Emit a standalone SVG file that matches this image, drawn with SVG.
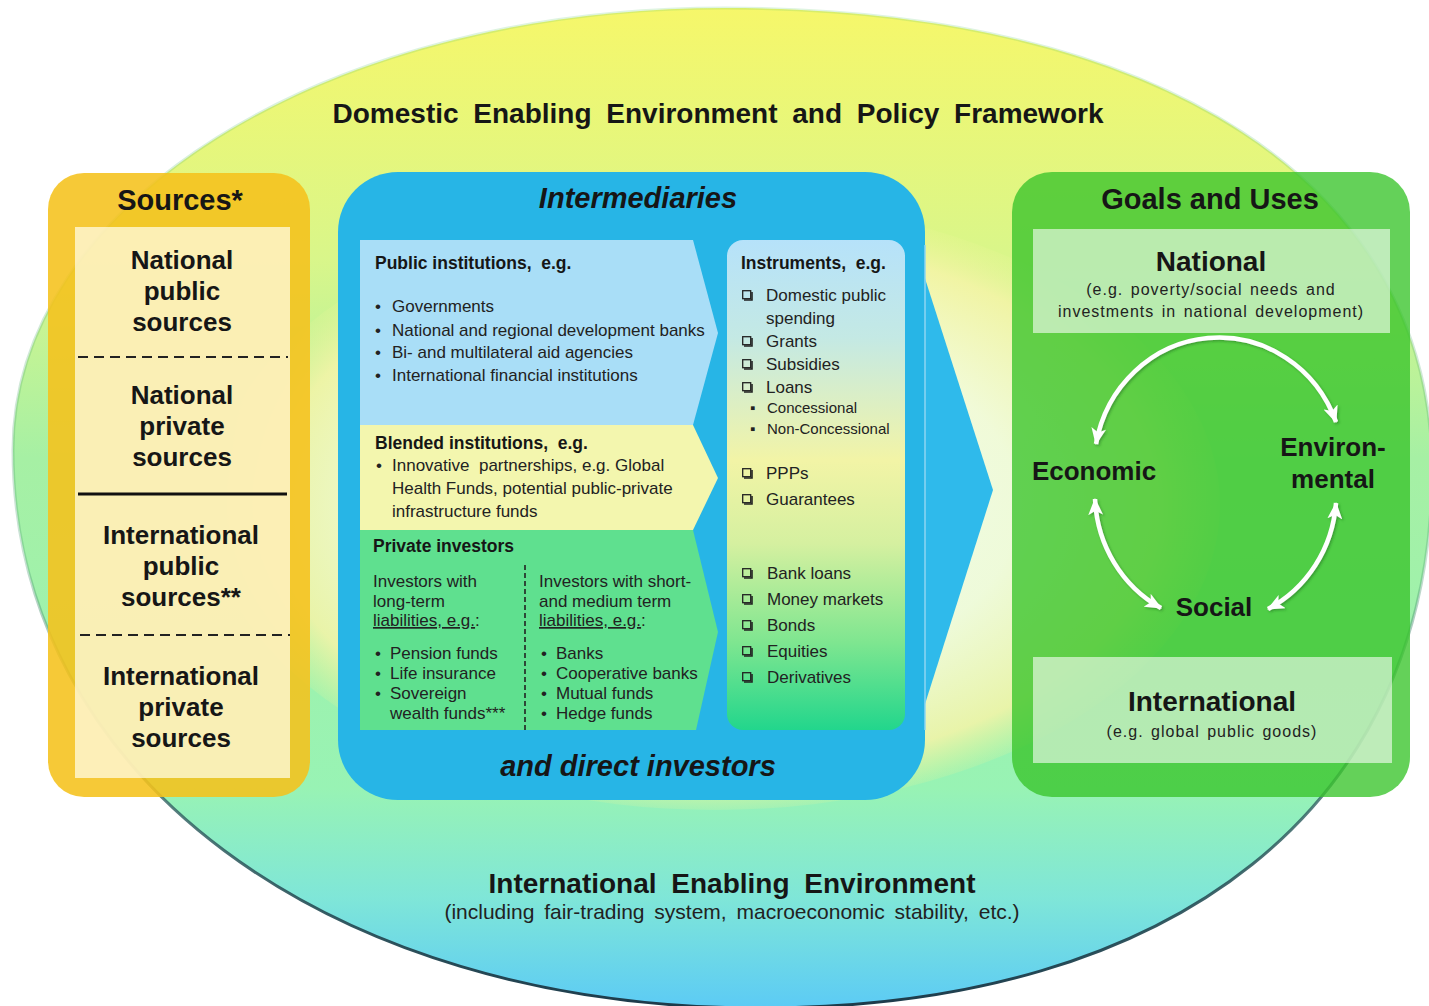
<svg xmlns="http://www.w3.org/2000/svg" width="1429" height="1006" viewBox="0 0 1429 1006">
<defs>
<linearGradient id="gBig" x1="0" y1="0" x2="0" y2="1">
 <stop offset="0" stop-color="#f6f76a"/>
 <stop offset="0.25" stop-color="#d9f68a"/>
 <stop offset="0.45" stop-color="#a6f0a4"/>
 <stop offset="0.78" stop-color="#98f3b4"/>
 <stop offset="0.89" stop-color="#7fe6d8"/>
 <stop offset="1" stop-color="#5ccbf5"/>
</linearGradient>
<linearGradient id="gEdge" x1="0" y1="0" x2="0" y2="1">
 <stop offset="0" stop-color="#5fc86a" stop-opacity="0.2"/>
 <stop offset="0.55" stop-color="#4a9a70" stop-opacity="0.3"/>
 <stop offset="0.8" stop-color="#2f5f60" stop-opacity="0.8"/>
 <stop offset="1" stop-color="#1c3a4a" stop-opacity="1"/>
</linearGradient>
<radialGradient id="gInner" cx="0.5" cy="0.5" r="0.5">
 <stop offset="0" stop-color="#ffffff"/>
 <stop offset="0.6" stop-color="#fcfce2"/>
 <stop offset="0.88" stop-color="#f6f4a8"/>
 <stop offset="1" stop-color="#eef59a" stop-opacity="0.2"/>
</radialGradient>
<linearGradient id="gInstr" x1="0" y1="0" x2="0" y2="1">
 <stop offset="0" stop-color="#b6e2fa"/>
 <stop offset="0.2" stop-color="#c4e9e4"/>
 <stop offset="0.45" stop-color="#f2f4a6"/>
 <stop offset="0.62" stop-color="#d5f0a0"/>
 <stop offset="0.82" stop-color="#7fe690"/>
 <stop offset="1" stop-color="#22d68c"/>
</linearGradient>
<marker id="ah" viewBox="0 0 16 14" refX="15" refY="7" markerWidth="17" markerHeight="15" markerUnits="userSpaceOnUse" orient="auto-start-reverse">
 <path d="M0,0 L16,7 L0,14 L4,7 Z" fill="#ffffff"/>
</marker>
<filter id="sh" x="-20%" y="-20%" width="140%" height="140%">
 <feDropShadow dx="1.5" dy="1.5" stdDeviation="1" flood-color="#1f6b1f" flood-opacity="0.5"/>
</filter>
<symbol id="cb" viewBox="0 0 11 11" width="11" height="11" overflow="visible">
 <rect x="0.7" y="0.7" width="8" height="8" fill="none" stroke="#222" stroke-width="1.3"/>
 <path d="M2,10 H10 V2" fill="none" stroke="#222" stroke-width="1.6"/>
</symbol>
<style>
 text { font-family: "Liberation Sans", Arial, sans-serif; fill: #161616; }
 .title { font-size: 28px; font-weight: bold; text-anchor: middle; word-spacing: 7px; }
 .sub { font-size: 21px; text-anchor: middle; word-spacing: 4px; fill: #222; }
 .head { font-size: 29px; font-weight: bold; text-anchor: middle; }
 .headi { font-size: 29px; font-weight: bold; font-style: italic; text-anchor: middle; }
 .src { font-size: 26px; font-weight: bold; text-anchor: middle; }
 .bh { font-size: 17.5px; font-weight: bold; white-space: pre; }
 .b { font-size: 17px; fill: #222; white-space: pre; }
 .s { font-size: 15px; fill: #222; }
 .gl { font-size: 28px; font-weight: bold; text-anchor: middle; }
 .gs { font-size: 16px; letter-spacing: 1px; word-spacing: 2px; text-anchor: middle; fill: #222; }
 .ge { font-size: 26px; font-weight: bold; text-anchor: middle; }
 .u { text-decoration: underline; }
 .arc { fill: none; stroke: #ffffff; stroke-width: 4.5; marker-start: url(#ah); marker-end: url(#ah); }
</style>
</defs>

<g id="background">
 <rect width="1429" height="1006" fill="#ffffff"/>
 <path id="env-ellipse" d="M13,450 C13,206 320,8 725,8 C1160,8 1432,184 1432,470 C1432,804 1177,1008 760,1008 C327,1008 13,774 13,450 Z" fill="url(#gBig)" stroke="url(#gEdge)" stroke-width="3"/>
 <ellipse id="inner-ellipse" cx="715" cy="505" rx="505" ry="305" fill="url(#gInner)" opacity="0.85"/>
</g>

<g id="title-domestic">
 <text class="title" x="718" y="123">Domestic Enabling Environment and Policy Framework</text>
</g>
<g id="title-international">
 <text class="title" x="732" y="893">International Enabling Environment</text>
 <text class="sub" x="732" y="919">(including fair-trading system, macroeconomic stability, etc.)</text>
</g>

<g id="sources">
 <rect x="48" y="173" width="262" height="624" rx="36" fill="#f5c11b" opacity="0.88"/>
 <rect x="75" y="227" width="215" height="551" fill="#fffdea" opacity="0.72"/>
 <text class="head" x="180" y="210">Sources*</text>
 <text class="src" x="182" y="269">National</text>
 <text class="src" x="182" y="300">public</text>
 <text class="src" x="182" y="331">sources</text>
 <line x1="78" y1="357" x2="288" y2="357" stroke="#222" stroke-width="2" stroke-dasharray="10 6"/>
 <text class="src" x="182" y="404">National</text>
 <text class="src" x="182" y="435">private</text>
 <text class="src" x="182" y="466">sources</text>
 <line x1="78" y1="494" x2="287" y2="494" stroke="#111" stroke-width="3"/>
 <text class="src" x="181" y="544">International</text>
 <text class="src" x="181" y="575">public</text>
 <text class="src" x="181" y="606">sources**</text>
 <line x1="80" y1="635" x2="290" y2="635" stroke="#222" stroke-width="2" stroke-dasharray="10 6"/>
 <text class="src" x="181" y="685">International</text>
 <text class="src" x="181" y="716">private</text>
 <text class="src" x="181" y="747">sources</text>
</g>

<g id="intermediaries">
 <path d="M912,238 L993,490 L912,745 Z" fill="#2fbaeb"/>
 <rect x="338" y="172" width="587" height="628" rx="60" fill="#27b5e6"/>
 <line x1="925" y1="245" x2="925" y2="730" stroke="#8ed6f2" stroke-width="1.5"/>
 <text class="headi" x="638" y="208">Intermediaries</text>
 <text class="headi" x="638" y="776">and direct investors</text>

 <g id="public-institutions">
  <path d="M360,240 H693 L718,333 L693,425 H360 Z" fill="#a9def7"/>
  <text class="bh" x="375" y="269">Public institutions,  e.g.</text>
  <text class="b" x="375" y="312">•</text><text class="b" x="392" y="312">Governments</text>
  <text class="b" x="375" y="336">•</text><text class="b" x="392" y="336">National and regional development banks</text>
  <text class="b" x="375" y="358">•</text><text class="b" x="392" y="358">Bi- and multilateral aid agencies</text>
  <text class="b" x="375" y="381">•</text><text class="b" x="392" y="381">International financial institutions</text>
 </g>

 <g id="blended-institutions">
  <path d="M360,425 H693 L718,478 L693,530 H360 Z" fill="#f3f6ae"/>
  <text class="bh" x="375" y="449">Blended institutions,  e.g.</text>
  <text class="b" x="376" y="471">•</text><text class="b" x="392" y="471">Innovative  partnerships, e.g. Global</text>
  <text class="b" x="392" y="494">Health Funds, potential public-private</text>
  <text class="b" x="392" y="517">infrastructure funds</text>
 </g>

 <g id="private-investors">
  <path d="M360,530 H693 L718,632 L696,730 H360 Z" fill="#5fe08f"/>
  <line x1="525" y1="565" x2="525" y2="730" stroke="#222" stroke-width="1.6" stroke-dasharray="5 3"/>
  <text class="bh" x="373" y="552">Private investors</text>
  <text class="b" x="373" y="587">Investors with</text>
  <text class="b" x="373" y="607">long-term</text>
  <text class="b" x="373" y="626"><tspan class="u">liabilities, e.g.</tspan>:</text>
  <text class="b" x="375" y="659">•</text><text class="b" x="390" y="659">Pension funds</text>
  <text class="b" x="375" y="679">•</text><text class="b" x="390" y="679">Life insurance</text>
  <text class="b" x="375" y="699">•</text><text class="b" x="390" y="699">Sovereign</text>
  <text class="b" x="390" y="719">wealth funds***</text>
  <text class="b" x="539" y="587">Investors with short-</text>
  <text class="b" x="539" y="607">and medium term</text>
  <text class="b" x="539" y="626"><tspan class="u">liabilities, e.g.</tspan>:</text>
  <text class="b" x="541" y="659">•</text><text class="b" x="556" y="659">Banks</text>
  <text class="b" x="541" y="679">•</text><text class="b" x="556" y="679">Cooperative banks</text>
  <text class="b" x="541" y="699">•</text><text class="b" x="556" y="699">Mutual funds</text>
  <text class="b" x="541" y="719">•</text><text class="b" x="556" y="719">Hedge funds</text>
 </g>

 <g id="instruments">
  <rect x="727" y="240" width="178" height="490" rx="16" fill="url(#gInstr)"/>
  <text class="bh" x="741" y="269">Instruments,  e.g.</text>
  <use href="#cb" x="742" y="290"/><text class="b" x="766" y="301">Domestic public</text>
  <text class="b" x="766" y="324">spending</text>
  <use href="#cb" x="742" y="336"/><text class="b" x="766" y="347">Grants</text>
  <use href="#cb" x="742" y="359"/><text class="b" x="766" y="370">Subsidies</text>
  <use href="#cb" x="742" y="382"/><text class="b" x="766" y="393">Loans</text>
  <text class="s" x="750" y="413">▪</text><text class="s" x="767" y="413">Concessional</text>
  <text class="s" x="750" y="434">▪</text><text class="s" x="767" y="434">Non-Concessional</text>
  <use href="#cb" x="742" y="468"/><text class="b" x="766" y="479">PPPs</text>
  <use href="#cb" x="742" y="494"/><text class="b" x="766" y="505">Guarantees</text>
  <use href="#cb" x="742" y="568"/><text class="b" x="767" y="579">Bank loans</text>
  <use href="#cb" x="742" y="594"/><text class="b" x="767" y="605">Money markets</text>
  <use href="#cb" x="742" y="620"/><text class="b" x="767" y="631">Bonds</text>
  <use href="#cb" x="742" y="646"/><text class="b" x="767" y="657">Equities</text>
  <use href="#cb" x="742" y="672"/><text class="b" x="767" y="683">Derivatives</text>
 </g>
</g>

<g id="goals">
 <rect x="1012" y="172" width="398" height="625" rx="40" fill="#38c42a" opacity="0.78"/>
 <text class="head" x="1210" y="209">Goals and Uses</text>
 <g id="goal-national">
  <rect x="1033" y="229" width="357" height="104" fill="#ffffff" opacity="0.58"/>
  <text class="gl" x="1211" y="271">National</text>
  <text class="gs" x="1211" y="295">(e.g. poverty/social needs and</text>
  <text class="gs" x="1211" y="317">investments in national development)</text>
 </g>
 <g id="goal-international">
  <rect x="1033" y="657" width="359" height="106" fill="#ffffff" opacity="0.58"/>
  <text class="gl" x="1212" y="711">International</text>
  <text class="gs" x="1212" y="737">(e.g. global public goods)</text>
 </g>
 <g id="goal-economic"><text class="ge" x="1094" y="480">Economic</text></g>
 <g id="goal-environmental">
  <text class="ge" x="1333" y="456">Environ-</text>
  <text class="ge" x="1333" y="488">mental</text>
 </g>
 <g id="goal-social"><text class="ge" x="1214" y="616">Social</text></g>
</g>

<g id="connectors" filter="url(#sh)">
 <path class="arc" d="M1096,444 A125 130 0 0 1 1336,422"/>
 <path class="arc" d="M1095,499 A125 130 0 0 0 1161,608"/>
 <path class="arc" d="M1336,503 A125 130 0 0 1 1268,609"/>
</g>
</svg>
